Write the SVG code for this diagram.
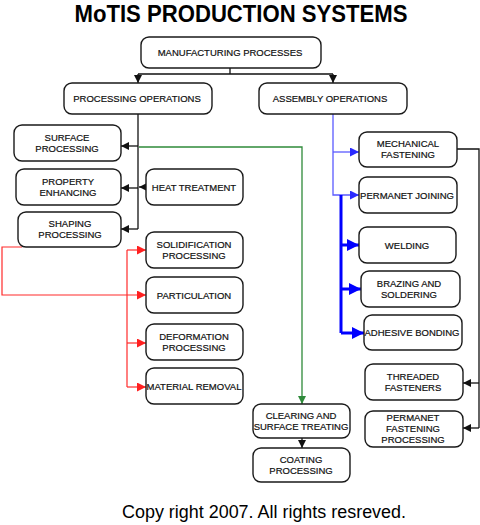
<svg xmlns="http://www.w3.org/2000/svg" width="480" height="525" viewBox="0 0 480 525">
<defs>
<style>
.b{fill:#fff;stroke:#1a1a1a;stroke-width:1.4}
.t{font-family:"Liberation Sans",Arial,sans-serif;font-size:9.5px;fill:#111;stroke:#111;stroke-width:0.2;text-anchor:middle}
.k{fill:none;stroke:#111;stroke-width:1.3}
.g{fill:none;stroke:#2f8a3a;stroke-width:1.3}
.r{fill:none;stroke:#ff2a2a;stroke-width:1.2}
.bl{fill:none;stroke:#5a5aff;stroke-width:1.3}
.bt{fill:none;stroke:#0000ff;stroke-width:3}
</style>
<marker id="ak" markerUnits="userSpaceOnUse" markerWidth="8" markerHeight="8" refX="8" refY="4" orient="auto"><path d="M0,0 L8,4 L0,8 z" fill="#111"/></marker>
<marker id="ag" markerUnits="userSpaceOnUse" markerWidth="8" markerHeight="8" refX="8" refY="4" orient="auto"><path d="M0,0 L8,4 L0,8 z" fill="#2f8a3a"/></marker>
<marker id="ar" markerUnits="userSpaceOnUse" markerWidth="9" markerHeight="9" refX="9" refY="4.5" orient="auto"><path d="M0,0 L9,4.5 L0,9 z" fill="#ff2020"/></marker>
<marker id="ab" markerUnits="userSpaceOnUse" markerWidth="9" markerHeight="9" refX="9" refY="4.5" orient="auto"><path d="M0,0 L9,4.5 L0,9 z" fill="#2a2aff"/></marker>
<marker id="abt" markerUnits="userSpaceOnUse" markerWidth="12" markerHeight="12" refX="12" refY="6" orient="auto"><path d="M0,0 L12,6 L0,12 z" fill="#0000ff"/></marker>
</defs>
<rect width="480" height="525" fill="#fff"/>
<text x="241" y="22" font-family="'Liberation Sans',Arial,sans-serif" font-size="23" font-weight="bold" text-anchor="middle" textLength="333" lengthAdjust="spacingAndGlyphs" fill="#000">MoTIS PRODUCTION SYSTEMS</text>

<g id="connectors">
<path class="k" d="M230 68V74M138 74H333"/>
<path class="k" d="M138 74V83" marker-end="url(#ak)"/>
<path class="k" d="M333 74V83" marker-end="url(#ak)"/>
<path class="k" d="M138 114V229"/>
<path class="k" d="M138 146H121" marker-end="url(#ak)"/>
<path class="k" d="M138 188H121" marker-end="url(#ak)"/>
<path class="k" d="M138 229H121" marker-end="url(#ak)"/>
<path class="k" d="M146 187H139" marker-end="url(#ak)"/>
<path class="g" d="M139 147H302V404" marker-end="url(#ag)"/>
<path class="r" d="M22 247H2V295H146" marker-end="url(#ar)"/>
<path class="r" d="M127 250V387"/>
<path class="r" d="M127 250H146" marker-end="url(#ar)"/>
<path class="r" d="M127 343H146" marker-end="url(#ar)"/>
<path class="r" d="M127 387H146" marker-end="url(#ar)"/>
<path class="bl" d="M333 114V195H359" marker-end="url(#ab)"/>
<path class="bl" d="M333 152H359" marker-end="url(#ab)"/>
<path class="bt" d="M341 195V333"/>
<path class="bt" d="M341 245H359" marker-end="url(#abt)"/>
<path class="bt" d="M341 289H361" marker-end="url(#abt)"/>
<path class="bt" d="M341 333H364" marker-end="url(#abt)"/>
<path class="k" d="M457 149H479V428"/>
<path class="k" d="M479 383H463" marker-end="url(#ak)"/>
<path class="k" d="M479 428H463" marker-end="url(#ak)"/>
<path class="k" d="M302 438V448" marker-end="url(#ak)"/>
</g>

<g id="mfg"><rect class="b" x="141" y="37" width="180" height="31" rx="8"/><text class="t" x="230" y="55.5">MANUFACTURING PROCESSES</text></g>
<g id="proc"><rect class="b" x="64" y="83" width="148" height="31" rx="8"/><text class="t" x="137" y="101.5">PROCESSING OPERATIONS</text></g>
<g id="asm"><rect class="b" x="259" y="83" width="148" height="31" rx="8"/><text class="t" x="330" y="101.5">ASSEMBLY OPERATIONS</text></g>
<g id="surface"><rect class="b" x="14" y="125" width="107" height="36" rx="8"/><text class="t" x="67" y="140.5">SURFACE</text><text class="t" x="67" y="151.5">PROCESSING</text></g>
<g id="property"><rect class="b" x="16" y="169" width="105" height="36" rx="8"/><text class="t" x="68" y="184.5">PROPERTY</text><text class="t" x="68" y="195.5">ENHANCING</text></g>
<g id="shaping"><rect class="b" x="18" y="212" width="103" height="35" rx="8"/><text class="t" x="70" y="227">SHAPING</text><text class="t" x="70" y="238">PROCESSING</text></g>
<g id="heat"><rect class="b" x="146" y="169" width="97" height="36" rx="8"/><text class="t" x="194" y="190.5">HEAT TREATMENT</text></g>
<g id="solid"><rect class="b" x="146" y="232" width="97" height="36" rx="8"/><text class="t" x="194" y="247.5">SOLIDIFICATION</text><text class="t" x="194" y="258.5">PROCESSING</text></g>
<g id="partic"><rect class="b" x="146" y="277" width="97" height="36" rx="8"/><text class="t" x="194" y="298.5">PARTICULATION</text></g>
<g id="deform"><rect class="b" x="146" y="324" width="97" height="36" rx="8"/><text class="t" x="194" y="339.5">DEFORMATION</text><text class="t" x="194" y="350.5">PROCESSING</text></g>
<g id="matrem"><rect class="b" x="146" y="368" width="97" height="36" rx="8"/><text class="t" x="194" y="389.5">MATERIAL REMOVAL</text></g>
<g id="mech"><rect class="b" x="359" y="132" width="98" height="35" rx="8"/><text class="t" x="408" y="147">MECHANICAL</text><text class="t" x="408" y="158">FASTENING</text></g>
<g id="permjoin"><rect class="b" x="359" y="177" width="98" height="36" rx="8"/><text class="t" x="407" y="198.5">PERMANET JOINING</text></g>
<g id="welding"><rect class="b" x="359" y="227" width="97" height="36" rx="8"/><text class="t" x="407" y="248.5">WELDING</text></g>
<g id="brazing"><rect class="b" x="361" y="271" width="99" height="36" rx="8"/><text class="t" x="409" y="286.5">BRAZING AND</text><text class="t" x="409" y="297.5">SOLDERING</text></g>
<g id="adhesive"><rect class="b" x="364" y="315" width="98" height="35" rx="8"/><text class="t" x="412" y="336">ADHESIVE BONDING</text></g>
<g id="threaded"><rect class="b" x="365" y="364" width="98" height="36" rx="8"/><text class="t" x="413" y="380">THREADED</text><text class="t" x="413" y="391">FASTENERS</text></g>
<g id="permfast"><rect class="b" x="365" y="411" width="98" height="36" rx="8"/><text class="t" x="413" y="421">PERMANET</text><text class="t" x="413" y="432">FASTENING</text><text class="t" x="413" y="442.5">PROCESSING</text></g>
<g id="clearing"><rect class="b" x="253" y="404" width="97" height="34" rx="8"/><text class="t" x="301" y="419">CLEARING AND</text><text class="t" x="301" y="430">SURFACE TREATING</text></g>
<g id="coating"><rect class="b" x="253" y="448" width="97" height="34" rx="8"/><text class="t" x="301" y="463">COATING</text><text class="t" x="301" y="474">PROCESSING</text></g>

<text x="264" y="518" font-family="'Liberation Sans',Arial,sans-serif" font-size="17.5" text-anchor="middle" textLength="284" lengthAdjust="spacingAndGlyphs" fill="#000">Copy right 2007. All rights resreved.</text>
</svg>
